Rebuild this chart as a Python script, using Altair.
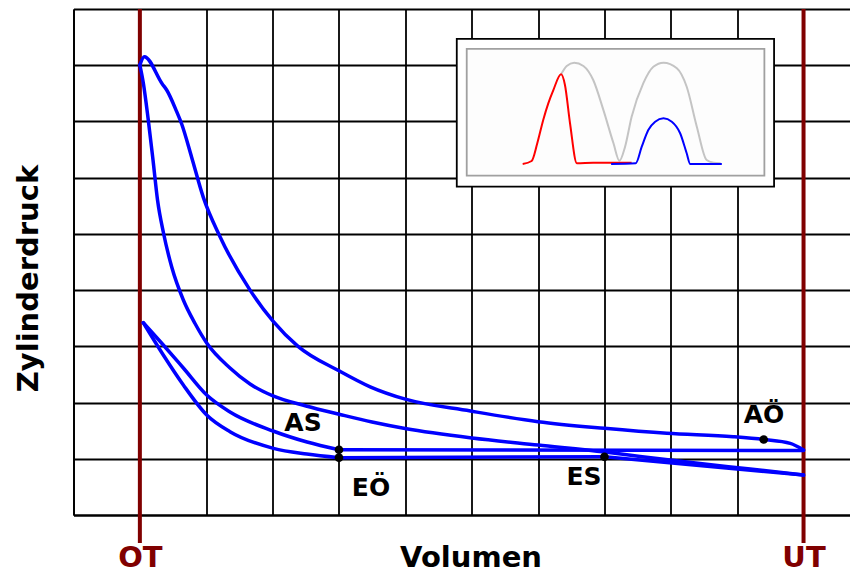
import altair as alt
import pandas as pd

# ---- grid units: volume (OT = 1, UT = 11), pressure 0..9 ----
V_MAX = 11.70
P_MAX = 9

# compression: UT -> OT
comp_v = [11.0, 10.197, 9.44, 8.537, 8.01, 7.0, 6.005, 4.996, 4.498, 4.016, 3.504, 3.006, 2.66, 2.358, 2.007, 1.831, 1.655, 1.48, 1.356, 1.266, 1.198, 1.123, 1.052, 1.0]
comp_p = [0.711, 0.818, 0.916, 1.041, 1.121, 1.245, 1.370, 1.539, 1.654, 1.788, 1.939, 2.117, 2.330, 2.615, 3.059, 3.406, 3.824, 4.411, 5.016, 5.603, 6.315, 7.062, 7.684, 8.004]

# combustion + expansion: OT -> UT
exp_v = [1.0, 1.067, 1.338, 1.404, 1.555, 1.63, 1.781, 1.956, 2.208, 2.66, 3.006, 3.383, 4.008, 4.47, 5.0, 5.98, 7.0, 8.0, 8.94, 9.94, 10.40, 10.8, 11.0]
exp_p = [8.004, 8.152, 7.666, 7.56, 7.174, 6.955, 6.36, 5.65, 4.95, 4.0, 3.45, 3.0, 2.56, 2.28, 2.06, 1.85, 1.66, 1.542, 1.453, 1.393, 1.343, 1.275, 1.156]

# exhaust stroke: UT -> AS
exh_v = [4.0, 11.0]
exh_p = [1.16, 1.147]

# recompression: AS -> OT
rec_v = [1.052, 1.353, 1.655, 2.007, 2.358, 3.006, 3.519, 4.0]
rec_p = [3.42, 3.024, 2.615, 2.134, 1.832, 1.494, 1.298, 1.16]

# re-expansion: OT -> EÖ
rex_v = [1.052, 1.353, 1.655, 2.007, 2.358, 3.012, 3.515, 4.0]
rex_p = [3.42, 2.846, 2.312, 1.779, 1.482, 1.186, 1.085, 1.02]

# intake: EÖ -> ES
int_v = [4.0, 8.0]
int_p = [1.02, 1.035]

# expansion after ES: ES -> UT
aes_v = [8.0, 11.0]
aes_p = [1.035, 0.711]

# timing points and their labels
dot_v = [4.0, 4.0, 8.0, 10.40]
dot_p = [1.16, 1.02, 1.035, 1.343]
lab_text = ["AS", "EÖ", "ES", "AÖ"]
lab_v = [3.458, 4.483, 7.693, 10.405]
lab_p = [1.499, 0.338, 0.534, 1.631]

# dead centres
dc_v = [1, 11]
dc_top = [9, 9]
dc_bottom = [-0.5, -0.5]

# inset frame (grid units)
inset_outer_v = [5.775, 10.556]
inset_outer_p = [5.840, 8.467]
inset_inner_v = [5.925, 10.410]
inset_inner_p = [6.035, 8.289]

# inset curves (normalised 0..1 inside the inner frame)
gray_u = [0.317, 0.336, 0.361, 0.392, 0.425, 0.459, 0.493, 0.513, 0.532, 0.554, 0.593, 0.627, 0.661, 0.706, 0.739, 0.773, 0.806, 0.829, 0.853]
gray_w = [0.800, 0.866, 0.892, 0.866, 0.755, 0.519, 0.256, 0.118, 0.229, 0.466, 0.729, 0.860, 0.892, 0.848, 0.702, 0.387, 0.124, 0.103, 0.098]
red_u = [0.188, 0.218, 0.237, 0.257, 0.274, 0.291, 0.317, 0.330, 0.347, 0.370, 0.425, 0.554]
red_w = [0.092, 0.116, 0.256, 0.440, 0.571, 0.676, 0.800, 0.716, 0.414, 0.098, 0.103, 0.103]
blue_u = [0.485, 0.568, 0.588, 0.610, 0.633, 0.661, 0.689, 0.717, 0.739, 0.751, 0.857]
blue_w = [0.092, 0.098, 0.229, 0.361, 0.426, 0.453, 0.426, 0.335, 0.177, 0.092, 0.092]

FONT = "DejaVu Sans"

# ---- tables ----
segs = [("comp", comp_v, comp_p), ("exp", exp_v, exp_p), ("exh", exh_v, exh_p),
        ("rec", rec_v, rec_p), ("rex", rex_v, rex_p), ("int", int_v, int_p), ("aes", aes_v, aes_p)]
cycle = pd.DataFrame([{"v": v, "p": p, "seg": s} for s, vs, ps in segs for v, p in zip(vs, ps)])
dots = pd.DataFrame({"v": dot_v, "p": dot_p})
labels = pd.DataFrame({"v": lab_v, "p": lab_p, "t": lab_text})
dc = pd.DataFrame({"v": dc_v, "top": dc_top, "bottom": dc_bottom})
frames = pd.DataFrame({
    "v": [inset_outer_v[0], inset_inner_v[0]], "v2": [inset_outer_v[1], inset_inner_v[1]],
    "p": [inset_outer_p[0], inset_inner_p[0]], "p2": [inset_outer_p[1], inset_inner_p[1]],
    "kind": ["outer", "inner"],
})

def to_grid(us, ws, name):
    iv0, iv1 = inset_inner_v
    ip0, ip1 = inset_inner_p
    return pd.DataFrame({"v": [iv0 + u * (iv1 - iv0) for u in us],
                         "p": [ip0 + w * (ip1 - ip0) for w in ws],
                         "c": name})

inset = pd.concat([to_grid(gray_u, gray_w, "gray"), to_grid(red_u, red_w, "red"),
                   to_grid(blue_u, blue_w, "blue")], ignore_index=True)

xs = alt.Scale(domain=[0, V_MAX], nice=False, zero=False)
ys = alt.Scale(domain=[0, P_MAX], nice=False, zero=False)

x_axis = alt.Axis(
    values=list(range(12)), grid=True, gridColor="black", gridWidth=1.8, gridOpacity=1,
    domain=True, domainColor="black", domainWidth=1.8, ticks=False, tickSize=0,
    labelExpr="datum.value == 1 ? 'OT' : (datum.value == 11 ? 'UT' : '')",
    labelColor="#800000", labelFont=FONT, labelFontSize=29, labelFontWeight="bold",
    labelPadding=51.5, labelBaseline="alphabetic", labelOverlap=False, labelFlush=False,
    title="Volumen", titleFont=FONT, titleFontSize=29, titleFontWeight="bold", titleColor="black",
    titleX=397, titleY=51.5, titleBaseline="alphabetic", titleAlign="center",
)
y_axis = alt.Axis(
    values=list(range(10)), grid=True, gridColor="black", gridWidth=1.8, gridOpacity=1,
    domain=True, domainColor="black", domainWidth=1.8, ticks=False, tickSize=0, labels=False,
    title="Zylinderdruck", titleFont=FONT, titleFontSize=29, titleFontWeight="bold", titleColor="black",
    titleAngle=270, titleX=-36.5, titleY=269, titleBaseline="alphabetic", titleAlign="center",
)

X = lambda f: alt.X(f, scale=xs, axis=x_axis)
Y = lambda f: alt.Y(f, scale=ys, axis=y_axis)

frame_layer = alt.Chart(frames).mark_rect(strokeWidth=1.8).encode(
    x=X("v:Q"), x2="v2:Q", y=Y("p:Q"), y2="p2:Q",
    fill=alt.Fill("kind:N", scale=alt.Scale(domain=["outer", "inner"], range=["#ffffff", "#fdfdfd"]), legend=None),
    stroke=alt.Stroke("kind:N", scale=alt.Scale(domain=["outer", "inner"], range=["#000000", "#a0a0a0"]), legend=None),
)

inset_layer = alt.Chart(inset).mark_line(strokeWidth=2, interpolate="monotone").encode(
    x=X("v:Q"), y=Y("p:Q"),
    detail="c:N",
    color=alt.Color("c:N", scale=alt.Scale(domain=["gray", "red", "blue"], range=["#c4c4c4", "#ff0000", "#0000ff"]), legend=None),
)

dc_layer = alt.Chart(dc).mark_rule(color="#800000", strokeWidth=4).encode(
    x=X("v:Q"), y=Y("top:Q"), y2="bottom:Q",
)

cycle_layer = alt.Chart(cycle).mark_line(
    color="#0000ff", strokeWidth=3.5, interpolate="monotone", strokeCap="round", strokeJoin="round"
).encode(
    x=X("v:Q"), y=Y("p:Q"), detail="seg:N",
)

dot_layer = alt.Chart(dots).mark_circle(color="black", opacity=1, size=75).encode(
    x=X("v:Q"), y=Y("p:Q"),
)

label_layer = alt.Chart(labels).mark_text(
    font=FONT, fontSize=25, fontWeight="bold", color="black", align="center", baseline="alphabetic"
).encode(
    x=X("v:Q"), y=Y("p:Q"), text="t:N",
)

chart = alt.layer(frame_layer, inset_layer, dc_layer, cycle_layer, dot_layer, label_layer).properties(
    width=776.5, height=506,
    autosize=alt.AutoSizeParams(type="none"),
    padding={"left": 65.5, "top": 1, "right": 0, "bottom": 58},
    background="white",
).configure_view(stroke=None)

chart.save("out.html", embed_options={"renderer": "svg", "actions": False})
